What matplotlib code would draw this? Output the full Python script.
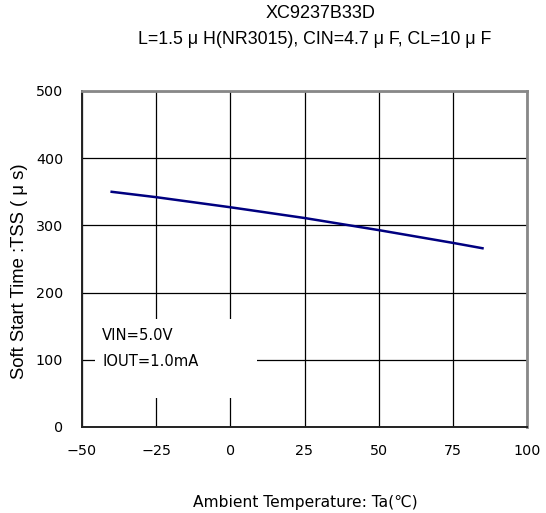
import matplotlib
matplotlib.use("Agg")
import matplotlib.pyplot as plt
from matplotlib.patches import Rectangle

plt.rcParams['font.family'] = ['DejaVu Sans', 'Noto Sans CJK JP']

# Soft-start time versus ambient temperature
temperature = [-40, -25, 0, 25, 50, 75, 85]
soft_start_us = [350, 342, 327, 311, 293, 274, 266]

x_ticks = [-50, -25, 0, 25, 50, 75, 100]
y_ticks = [0, 100, 200, 300, 400, 500]

title_main = "XC9237B33D"
title_sub = "L=1.5 μ H(NR3015), CIN=4.7 μ F, CL=10 μ F"
x_label = "Ambient Temperature: Ta(℃)"
y_label = "Soft Start Time :TSS ( μ s)"
conditions = ["VIN=5.0V", "IOUT=1.0mA"]

W, H = 546, 513
L, R, T, B = 82, 527, 91, 427          # axes box in pixels
fig = plt.figure(figsize=(W / 100, H / 100), dpi=100)
ax = fig.add_axes([L / W, 1 - B / H, (R - L) / W, (B - T) / H])

ax.set_xlim(-50, 100)
ax.set_ylim(0, 500)
ax.set_xticks(x_ticks)
ax.set_yticks(y_ticks)
ax.set_xticklabels([str(v).replace("-", "−") for v in x_ticks])
ax.tick_params(length=0, labelsize=10.3, colors="black")
ax.tick_params(axis="x", pad=12)
ax.tick_params(axis="y", pad=13.5)

ax.grid(True, color="black", linewidth=0.9, zorder=1)
ax.set_axisbelow(True)

for side in ("left", "bottom"):
    ax.spines[side].set_color("#222222")
    ax.spines[side].set_linewidth(1.4)
for side in ("top", "right"):
    ax.spines[side].set_color("#888888")
    ax.spines[side].set_linewidth(2.0)

# blank panel behind the test conditions
ax.add_patch(Rectangle((-45.5, 43), 54.5, 117, facecolor="white",
                       edgecolor="none", zorder=1.5))
ax.text(-43.2, 135.5, conditions[0], fontsize=10.6, va="center", ha="left", zorder=3)
ax.text(-43.2, 97.5, conditions[1], fontsize=10.6, va="center", ha="left", zorder=3)

ax.plot(temperature, soft_start_us, color="#000080", linewidth=1.8, zorder=4)

ax.set_xlabel(x_label, fontsize=11.2, va="center")
ax.xaxis.set_label_coords((305.5 - L) / (R - L), -(503 - B) / (B - T))
ax.set_ylabel(y_label, fontsize=13.3, va="center",
              family=["Liberation Sans", "DejaVu Sans"])
ax.yaxis.set_label_coords(-(L - 20) / (R - L), (B - 271) / (B - T))

title_font = ["Liberation Sans", "DejaVu Sans"]
fig.text(321 / W, 1 - 18.3 / H, title_main, ha="center", va="baseline",
         fontsize=13, family=title_font)
fig.text(315 / W, 1 - 43.5 / H, title_sub, ha="center", va="baseline",
         fontsize=12.8, family=title_font)

fig.savefig("out.png", dpi=100)
